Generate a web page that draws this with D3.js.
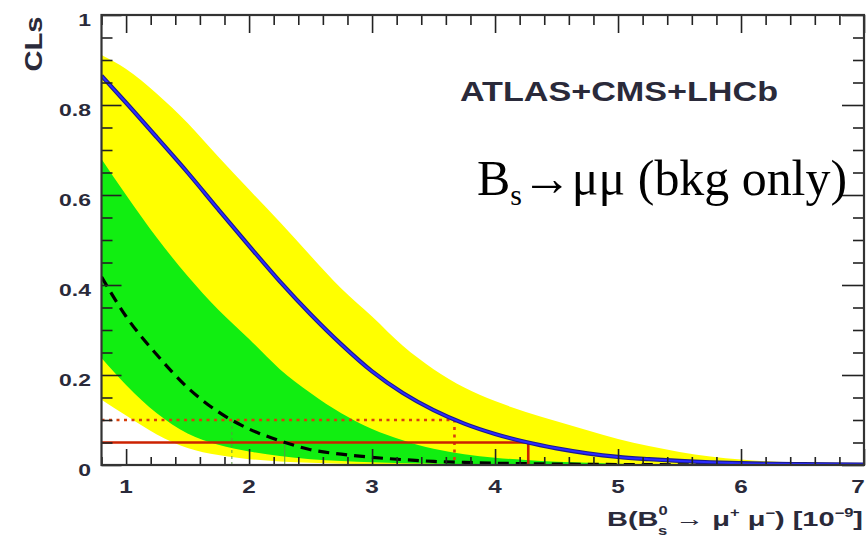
<!DOCTYPE html>
<html><head><meta charset="utf-8">
<script src="https://cdn.jsdelivr.net/npm/d3@7"></script>
<style>html,body{margin:0;padding:0;background:#fff;}svg{display:block;}</style>
</head><body>
<svg id="c" width="866" height="542"></svg>
<script>
// ---- data ----
const xGrid = [0.8,1.0,1.25,1.5,1.75,2.0,2.25,2.5,2.75,3.0,3.25,3.5,3.75,4.0,4.25,4.5,4.75,5.0,5.25,5.5,5.75,6.0,6.5,7.0];
const observed = [0.865,0.805,0.728,0.65,0.568,0.487,0.408,0.335,0.268,0.208,0.16,0.122,0.092,0.069,0.051,0.037,0.026,0.018,0.013,0.009,0.006,0.004,0.002,0.001];
const expected = [0.418,0.33,0.245,0.172,0.118,0.08,0.054,0.034,0.024,0.017,0.012,0.008,0.006,0.004,0.003,0.002,0.0015,0.001,0.0007,0.0005,0.0003,0.0002,0.0001,0];
const plus1 = [0.68,0.60,0.505,0.42,0.345,0.28,0.213,0.16,0.115,0.08,0.055,0.036,0.024,0.016,0.011,0.007,0.005,0.003,0.002,0.001,0.0007,0.0004,0.0001,0];
const minus1 = [0.238,0.178,0.115,0.07,0.045,0.03,0.02,0.013,0.009,0.006,0.004,0.003,0.002,0.001,0.0007,0.0005,0.0003,0.0002,0.0001,0.0001,0,0,0,0];
const plus2 = [0.911,0.88,0.825,0.76,0.685,0.612,0.54,0.465,0.392,0.33,0.265,0.213,0.172,0.142,0.118,0.097,0.077,0.058,0.042,0.029,0.019,0.012,0.005,0.002];
const minus2 = [0.145,0.11,0.068,0.038,0.022,0.013,0.008,0.005,0.003,0.002,0.0015,0.001,0.0007,0.0005,0.0003,0.0002,0.0001,0,0,0,0,0,0,0];
const xMajor = [1,2,3,4,5,6,7];
const yMajor = [0,0.2,0.4,0.6,0.8,1];
const yLabels = ["0","0.2","0.4","0.6","0.8","1"];
const cl95 = 0.05, cl90 = 0.1;
const obsLimit95 = 4.27, obsLimit90 = 3.67;
const expLimit95 = 2.29, expLimit90 = 1.86;

// ---- layout ----
const L = 101.5, R = 864, T = 15, B = 465;
const svg = d3.select("#c");
const x = d3.scaleLinear().domain([0.8, 7]).range([L, R]);
const y = d3.scaleLinear().domain([0, 1]).range([B, T]);

svg.append("defs").append("clipPath").attr("id","clip")
  .append("rect").attr("x",L).attr("y",T).attr("width",R-L).attr("height",B-T);
const plot = svg.append("g").attr("clip-path","url(#clip)");

const idx = d3.range(xGrid.length);
const band = (lo, hi) => d3.area().curve(d3.curveMonotoneX)
  .x(i => x(xGrid[i])).y0(i => y(lo[i])).y1(i => y(hi[i]));
const line = (arr) => d3.line().curve(d3.curveMonotoneX)
  .x(i => x(xGrid[i])).y(i => y(arr[i]));

plot.append("path").attr("d", band(minus2, plus2)(idx)).attr("fill", "#ffff00");
plot.append("path").attr("d", band(minus1, plus1)(idx)).attr("fill", "#11ee11");

// faint expected-limit verticals
plot.append("line").attr("x1",x(expLimit90)).attr("x2",x(expLimit90)).attr("y1",y(cl90)).attr("y2",y(0))
  .attr("stroke","#5a9a40").attr("stroke-width",1).attr("stroke-dasharray","3,3");
plot.append("line").attr("x1",x(expLimit95)).attr("x2",x(expLimit95)).attr("y1",y(cl95)).attr("y2",y(0))
  .attr("stroke","#5a9a40").attr("stroke-width",1);

// red lines
plot.append("path").attr("d", d3.line()([[x(0.8),y(cl90)],[x(obsLimit90),y(cl90)],[x(obsLimit90),y(0)]]))
  .attr("fill","none").attr("stroke","#d8400c").attr("stroke-width",2.6).attr("stroke-dasharray","3,4.5");
plot.append("path").attr("d", d3.line()([[x(0.8),y(cl95)],[x(obsLimit95),y(cl95)],[x(obsLimit95),y(0)]]))
  .attr("fill","none").attr("stroke","#cc2200").attr("stroke-width",2.6);

// expected (dashed) and observed (solid blue)
plot.append("path").attr("d", line(expected)(idx)).attr("fill","none")
  .attr("stroke","#000").attr("stroke-width",3.2).attr("stroke-dasharray","11,7");
plot.append("path").attr("d", line(observed)(idx)).attr("fill","none")
  .attr("stroke","#1a1a8a").attr("stroke-width",4.2);
plot.append("path").attr("d", line(observed)(idx)).attr("fill","none")
  .attr("stroke","#2b2bff").attr("stroke-width",2);

// ---- axes ticks (inside) ----
const xMinor = d3.range(0.8, 7.0001, 0.2).map(v => +v.toFixed(2)).filter(v => !xMajor.includes(v));
const yMinor = d3.range(0, 1.0001, 0.05).map(v => +v.toFixed(2)).filter(v => !yMajor.includes(v));
function ticks(axis, tr) {
  const g = svg.append("g").attr("transform", tr).call(axis);
  g.select(".domain").remove();
  g.selectAll("line").attr("stroke","#222").attr("stroke-width",1.6);
  g.selectAll("text").remove();
}
ticks(d3.axisBottom(x).tickValues(xMajor).tickSize(-16), `translate(0,${B})`);
ticks(d3.axisBottom(x).tickValues(xMinor).tickSize(-8), `translate(0,${B})`);
ticks(d3.axisTop(x).tickValues(xMajor).tickSize(-18), `translate(0,${T})`);
ticks(d3.axisTop(x).tickValues(xMinor).tickSize(-10), `translate(0,${T})`);
ticks(d3.axisLeft(y).tickValues(yMajor).tickSize(-20), `translate(${L},0)`);
ticks(d3.axisLeft(y).tickValues(yMinor).tickSize(-11), `translate(${L},0)`);
ticks(d3.axisRight(y).tickValues(yMajor).tickSize(-22), `translate(${R},0)`);
ticks(d3.axisRight(y).tickValues(yMinor).tickSize(-11), `translate(${R},0)`);

// frame
svg.append("rect").attr("x",L).attr("y",T).attr("width",R-L).attr("height",B-T)
  .attr("fill","none").attr("stroke","#333").attr("stroke-width",2.2);

// ---- tick labels ----
const sans = "Liberation Sans, Arial, Helvetica, sans-serif";
yMajor.forEach((v,i) => {
  svg.append("text").attr("transform",`translate(91,${y(v)+11}) scale(1.35,1)`)
    .attr("text-anchor","end").attr("font-family",sans).attr("font-weight","bold")
    .attr("font-size",17).attr("fill","#2a2a3a").text(yLabels[i]);
});
xMajor.forEach(v => {
  const px = Math.min(x(v), 858);
  svg.append("text").attr("transform",`translate(${px},${y(0)+28}) scale(1.35,1)`)
    .attr("text-anchor","middle").attr("font-family",sans).attr("font-weight","bold")
    .attr("font-size",18).attr("fill","#2a2a3a").text(v);
});

// y title
svg.append("text").attr("transform","translate(42,44) rotate(-90)")
  .attr("text-anchor","middle").attr("font-family",sans).attr("font-weight","bold")
  .attr("font-size",24).attr("fill","#2a2a3a")
  .attr("textLength",55).attr("lengthAdjust","spacingAndGlyphs").text("CLs");

// x title
const xt = svg.append("text").attr("x",607).attr("y",526).attr("font-family",sans)
  .attr("font-weight","bold").attr("font-size",21).attr("fill","#2a2a3a")
  .attr("textLength",256).attr("lengthAdjust","spacingAndGlyphs");
xt.append("tspan").text("B(B");
xt.append("tspan").attr("font-size",12).attr("dy",-11).text("0");
xt.append("tspan").attr("font-size",12).attr("dx",-7).attr("dy",20).text("s");
xt.append("tspan").attr("dy",-9).text(" \u2192 \u03bc");
xt.append("tspan").attr("font-size",12).attr("dy",-9).text("+");
xt.append("tspan").attr("dy",9).text(" \u03bc");
xt.append("tspan").attr("font-size",12).attr("dy",-9).text("\u2212");
xt.append("tspan").attr("dy",9).text(") [10");
xt.append("tspan").attr("font-size",12).attr("dy",-9).text("\u22129");
xt.append("tspan").attr("dy",9).text("]");

// annotations
svg.append("text").attr("x",460).attr("y",101).attr("font-family",sans).attr("font-weight","bold")
  .attr("font-size",27).attr("fill","#2a2a3a")
  .attr("textLength",318).attr("lengthAdjust","spacingAndGlyphs").text("ATLAS+CMS+LHCb");

const bt = svg.append("text").attr("x",477).attr("y",195)
  .attr("font-family","Liberation Serif, Times New Roman, serif").attr("font-size",50).attr("fill","#000")
  .attr("textLength",370).attr("lengthAdjust","spacingAndGlyphs");
bt.append("tspan").text("B");
bt.append("tspan").attr("font-size",30).attr("dy",10).text("s");
bt.append("tspan").attr("dy",-10).text("\u2192\u03bc\u03bc (bkg only)");
</script>
</body></html>
